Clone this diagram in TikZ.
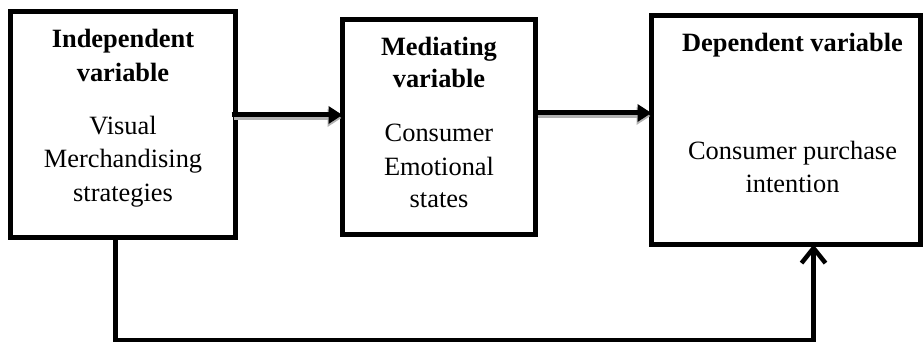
\documentclass[tikz,border=0pt]{standalone}
\usepackage{fontspec}
\setmainfont{Liberation Serif}
\usetikzlibrary{arrows.meta}
\begin{document}
\begin{tikzpicture}[x=1pt,y=-1pt,
  box/.style={draw=black,line width=5pt,rectangle,inner sep=0pt,outer sep=0pt},
  ttl/.style={anchor=base,inner sep=0pt,font=\fontsize{26.4}{34}\selectfont\bfseries},
  txt/.style={anchor=base,inner sep=0pt,font=\fontsize{26.4}{34}\selectfont},
  flow/.style={line width=5pt,-{Triangle[length=14pt,width=17pt]}},
  shadowflow/.style={line width=5pt,draw=black!30,fill=black!30,-{Triangle[length=14pt,width=17pt]}},
  back/.style={line width=4.5pt,line join=miter,-{Straight Barb[length=15pt,width=24pt,line width=4.5pt]}}
]
\useasboundingbox (0,0) rectangle (924,344);
% boxes
\node[box,minimum width=225.5pt,minimum height=226pt] (A) at (122.75,124.5) {};
\node[box,minimum width=193pt,minimum height=215.5pt] (B) at (439,127.25) {};
\node[box,minimum width=268.5pt,minimum height=229pt] (C) at (785.75,130) {};
% texts A
\node[ttl] (a1) at (123,48) {Independent};
\node[ttl] (a2) at (123,82) {variable};
\node[txt] (a3) at (123,135) {Visual};
\node[txt] (a4) at (123,168) {Merchandising};
\node[txt] (a5) at (123,202) {strategies};
% texts B
\node[ttl] (b1) at (439,56) {Mediating};
\node[ttl] (b2) at (439,88) {variable};
\node[txt] (b3) at (439,142) {Consumer};
\node[txt] (b4) at (439,176) {Emotional};
\node[txt] (b5) at (439,208) {states};
% texts C
\node[ttl] (c1) at (792.5,52) {Dependent variable};
\node[txt] (c2) at (792.5,160) {Consumer purchase};
\node[txt] (c3) at (792.5,193) {intention};
% arrows with shadow
\draw[shadowflow] ([shift={(-2pt,-3pt)}]A.east |- 0,115) -- ([shift={(-1pt,-3pt)}]B.west |- 0,115);
\draw[shadowflow] ([shift={(2pt,-3pt)}]B.east |- 0,113) -- ([shift={(-1pt,-3pt)}]C.west |- 0,113);
\draw[flow] ([xshift=-4pt]A.east |- 0,115) -- (B.west |- 0,115);
\draw[flow] (B.east |- 0,113) -- (C.west |- 0,113);
% feedback path
\coordinate (p1) at (115.5,340);
\coordinate (p2) at (813.5,340);
\draw[back] (A.south -| 115.5,0) -- (p1) -- (p2) -- (C.south -| 813.5,0);
\end{tikzpicture}
\end{document}
